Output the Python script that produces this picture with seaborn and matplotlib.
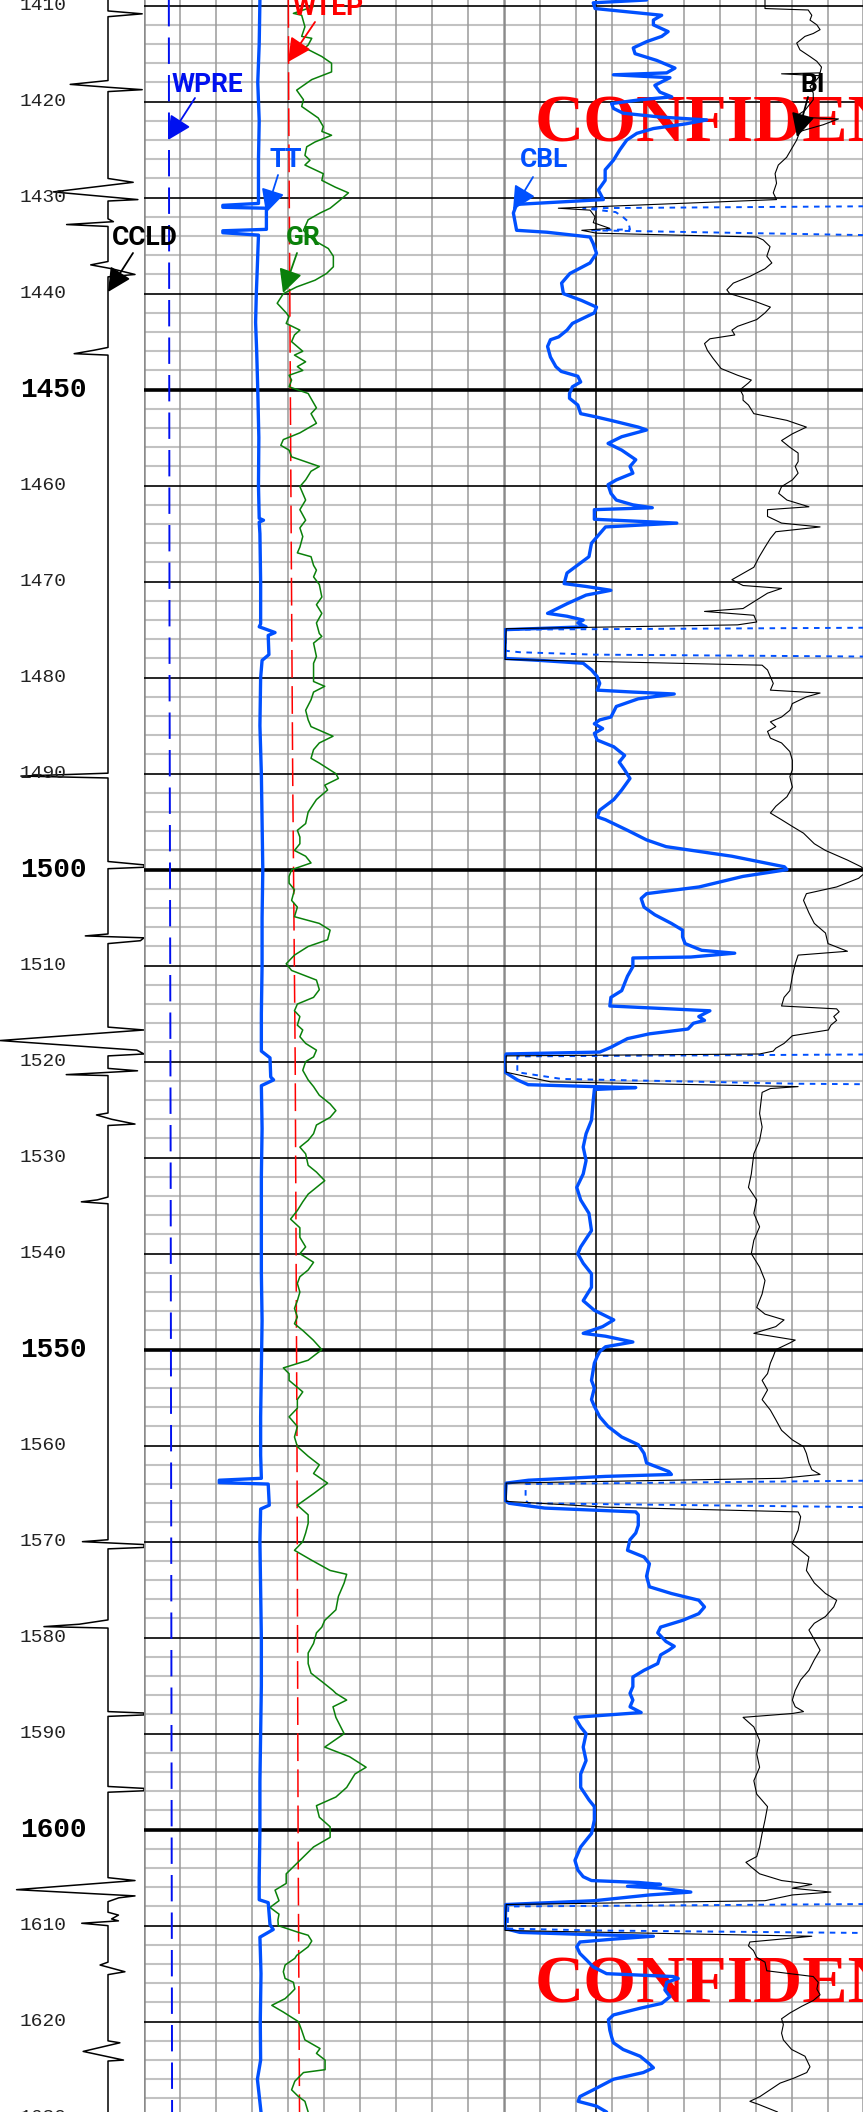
import numpy as np
import pandas as pd
import matplotlib
matplotlib.use("Agg")
import matplotlib.pyplot as plt
import seaborn as sns

# ---------------- depth window ----------------
TOP, BOT = 1409.41, 1629.41

# ---------------- CCLD (depth track, baseline 0) ----------------
CCL_D = [1409.41, 1410.55, 1410.85, 1411.15, 1417.8, 1418.2, 1418.5, 1418.75, 1418.95,
         1428.0, 1428.4, 1429.4, 1430.2, 1430.35, 1432.2, 1432.5, 1432.8, 1433.0,
         1436.65, 1437.0, 1437.4, 1438.0, 1438.25, 1445.6, 1445.9, 1446.25, 1446.4,
         1489.95, 1490.25, 1490.45, 1499.15, 1499.5, 1499.75, 1499.9,
         1506.7, 1506.9, 1507.1, 1507.4, 1507.7, 1516.4, 1516.7, 1517.8, 1518.8, 1519.2, 1519.4,
         1520.7, 1520.95, 1521.35, 1521.45, 1525.35, 1525.55, 1526.0, 1526.5, 1526.65,
         1534.1, 1534.4, 1534.6, 1534.8, 1569.8, 1570.0, 1570.3, 1570.6, 1570.75,
         1578.15, 1578.6, 1578.85, 1579.0, 1587.7, 1587.85, 1588.05, 1588.2,
         1595.5, 1595.7, 1595.95, 1596.1, 1605.0, 1605.3, 1606.25, 1606.9, 1607.1, 1607.5,
         1608.6, 1608.9, 1609.3, 1609.5, 1609.75, 1610.0, 1613.8, 1614.1, 1614.8, 1615.1,
         1622.0, 1622.2, 1623.1, 1624.0, 1624.1, 1629.41]
CCL_V = [0, 0, 9.5, 0, 0, -10.5, 0, 9.5, 0,
         0, 7.0, -15.2, 8.3, 0, 0, 1.5, -11.5, 0,
         0, -4.8, 1.0, 7.5, 0, 0, -4.0, -9.4, 0,
         0, -24.2, 0, 0, 10, 10, 0,
         0, -6.3, 10, 9, 0, 0, 10, -30, 8, 10, 0,
         0, 8.2, -11.6, 0, 0, -3.2, 1, 7.5, 0,
         0, -3, -7.4, 0, 0, -7.1, 10, 10, 0,
         0, -8, -17.8, 0, 0, 10, 10, 0,
         0, 10, 10, 0, 0, 7.5, -25.4, 7.5, 3, 0,
         0, 2.9, 1, 2.9, -7.3, 0, 0, -2.2, 4.7, 0,
         0, 3.3, -6.9, 4.3, 0, 0]

# ---------------- Track 2 curves (0-100 across track) ----------------
WPRE_D = [1409.41, 1480.0, 1530.0, 1580.0, 1629.41]
WPRE_V = [6.9, 7.1, 7.4, 7.6, 7.8]

WTEP_D = [1409.41, 1420.0, 1460.0, 1490.0, 1520.0, 1560.0, 1600.0, 1629.41]
WTEP_V = [40.1, 40.2, 40.8, 41.3, 42.0, 42.5, 42.8, 43.2]

TT_D = [1409.41, 1414.0, 1418.0, 1422.0, 1426.0, 1430.6, 1430.8, 1431.0, 1431.1, 1433.3,
        1433.45, 1433.65, 1433.9, 1437.0, 1440.0, 1443.0, 1446.0, 1450.0, 1455.0, 1460.0,
        1463.4, 1463.6, 1463.8, 1465.0, 1470.0, 1474.4, 1474.7, 1475.3, 1475.6, 1477.6,
        1478.2, 1480.0, 1485.0, 1490.0, 1495.0, 1500.0, 1505.0, 1510.0, 1515.0, 1518.9,
        1519.6, 1521.6, 1521.9, 1522.5, 1527.0, 1532.0, 1537.0, 1542.0, 1547.0, 1552.0,
        1557.0, 1561.0, 1563.4, 1563.6, 1563.85, 1564.0, 1566.2, 1566.6, 1570.0, 1575.0,
        1580.0, 1585.0, 1590.0, 1595.0, 1600.0, 1605.0, 1607.3, 1607.6, 1609.9, 1610.4,
        1611.2, 1615.0, 1620.0, 1624.0, 1626.0, 1629.41]
TT_V = [32.2, 32.0, 31.6, 32.0, 31.8, 31.8, 21.9, 21.9, 34.0, 34.0,
        21.9, 21.9, 31.8, 31.5, 31.2, 31.0, 31.3, 31.6, 31.9, 31.8,
        32.0, 33.2, 32.0, 32.2, 32.4, 32.4, 32.0, 36.4, 34.5, 34.7,
        32.8, 32.4, 32.2, 32.6, 32.8, 33.0, 32.8, 32.8, 32.6, 32.6,
        35.0, 35.2, 36.0, 32.6, 32.8, 32.6, 32.6, 32.6, 32.8, 32.6,
        32.4, 32.4, 32.6, 20.9, 20.9, 34.5, 34.8, 32.4, 32.2, 32.4,
        32.6, 32.6, 32.4, 32.2, 32.2, 32.0, 32.0, 34.5, 35.0, 35.9,
        32.2, 32.5, 32.3, 32.4, 31.5, 32.5]

GR_D = [1409.41, 1410.1, 1410.8, 1411.0, 1412.2, 1413.2, 1413.4, 1414.1, 1414.4, 1415.3,
        1416.0, 1416.9, 1417.7, 1418.8, 1419.8, 1420.5, 1421.7, 1422.6, 1423.1, 1423.5,
        1424.2, 1424.7, 1425.6, 1426.1, 1426.6, 1427.1, 1427.5, 1428.2, 1428.9, 1429.5,
        1430.4, 1431.1, 1431.6, 1432.3, 1433.4, 1434.4, 1435.3, 1436.1, 1437.2, 1437.9,
        1438.6, 1439.3, 1440.0, 1441.0, 1442.0, 1442.4, 1443.1, 1443.8, 1444.3, 1445.0,
        1446.0, 1446.4, 1447.1, 1447.6, 1448.0, 1448.5, 1449.0, 1449.7, 1450.4, 1451.9,
        1452.5, 1453.5, 1454.5, 1455.2, 1455.8, 1456.3, 1457.0, 1458.0, 1458.5, 1459.4,
        1460.1, 1461.5, 1462.5, 1463.6, 1464.4, 1465.3, 1466.4, 1467.0, 1467.4, 1468.3,
        1468.8, 1469.5, 1470.3, 1471.6, 1472.4, 1473.3, 1474.3, 1475.4, 1475.7, 1476.4,
        1477.8, 1478.5, 1479.5, 1480.4, 1480.9, 1481.5, 1482.3, 1483.4, 1484.4, 1485.1,
        1486.1, 1486.8, 1487.5, 1488.4, 1488.9, 1490.0, 1490.5, 1491.2, 1491.7, 1492.7,
        1494.0, 1495.2, 1495.9, 1496.6, 1497.3, 1498.0, 1498.6, 1499.3, 1500.0, 1500.7,
        1501.4, 1502.1, 1503.2, 1503.9, 1504.9, 1505.6, 1506.3, 1507.3, 1508.0, 1508.9,
        1509.8, 1510.5, 1511.5, 1512.5, 1513.3, 1514.0, 1514.7, 1515.3, 1516.2, 1516.7,
        1517.4, 1518.1, 1518.8, 1519.5, 1520.0, 1520.9, 1521.9, 1522.6, 1523.5, 1524.4,
        1525.1, 1525.8, 1526.6, 1527.5, 1528.2, 1528.9, 1529.6, 1530.8, 1531.5, 1532.4,
        1533.1, 1533.8, 1534.6, 1535.5, 1536.4, 1537.3, 1538.3, 1539.3, 1540.0, 1540.9,
        1541.7, 1542.4, 1543.1, 1544.0, 1544.9, 1545.7, 1546.6, 1547.3, 1548.0, 1549.0,
        1550.0, 1551.1, 1551.9, 1552.5, 1553.2, 1554.4, 1555.2, 1556.1, 1557.0, 1558.0,
        1559.1, 1560.1, 1561.1, 1562.0, 1562.9, 1563.9, 1565.0, 1566.2, 1567.2, 1568.1,
        1569.1, 1570.0, 1570.9, 1571.9, 1573.0, 1573.4, 1574.3, 1575.7, 1577.1, 1578.2,
        1578.9, 1579.5, 1580.6, 1581.6, 1582.7, 1583.7, 1584.6, 1585.5, 1585.8, 1586.5,
        1587.2, 1588.3, 1590.0, 1591.4, 1592.4, 1593.5, 1594.2, 1595.6, 1596.6, 1597.5,
        1598.7, 1599.7, 1600.8, 1601.8, 1603.2, 1604.6, 1605.6, 1606.3, 1607.4, 1608.1,
        1608.8, 1609.4, 1610.0, 1610.7, 1611.0, 1611.6, 1612.2, 1613.1, 1613.4, 1614.1,
        1614.8, 1615.5, 1615.9, 1616.6, 1617.1, 1617.6, 1618.3, 1619.0, 1620.0, 1620.9,
        1621.9, 1622.8, 1623.3, 1624.0, 1625.0, 1625.3, 1626.2, 1627.1, 1627.8, 1628.3,
        1629.41]
GR_V = [47.0, 47.0, 41.5, 43.8, 44.7, 43.8, 46.6, 45.6, 44.7, 49.4,
        52.1, 52.1, 46.6, 42.4, 44.3, 43.8, 48.4, 49.8, 49.4, 52.1,
        47.5, 45.2, 44.7, 46.1, 44.7, 47.5, 49.8, 49.4, 53.1, 56.8,
        54.0, 51.7, 48.9, 45.6, 44.3, 47.0, 51.2, 52.6, 52.6, 50.7,
        47.5, 42.4, 38.7, 37.0, 39.5, 40.3, 39.5, 43.3, 41.8, 41.0,
        44.1, 41.8, 44.9, 42.6, 44.1, 40.3, 41.0, 40.3, 45.6, 47.9,
        46.4, 47.9, 43.3, 38.7, 38.0, 40.3, 41.0, 48.7, 46.4, 44.9,
        43.3, 44.9, 43.3, 44.9, 43.3, 44.1, 43.3, 42.6, 46.4, 47.1,
        47.9, 47.1, 48.7, 49.4, 47.9, 49.4, 47.9, 48.7, 49.4, 47.1,
        47.9, 47.1, 47.1, 47.1, 50.2, 47.1, 46.4, 44.9, 45.6, 46.4,
        52.5, 48.7, 47.1, 46.4, 48.7, 53.3, 54.0, 50.2, 51.0, 47.9,
        45.6, 44.9, 42.6, 43.3, 43.3, 41.8, 44.9, 46.4, 41.0, 40.3,
        40.3, 41.8, 41.0, 42.6, 41.8, 48.7, 51.7, 51.0, 45.6, 41.8,
        39.5, 41.0, 47.9, 48.7, 47.1, 42.6, 41.8, 43.3, 42.6, 44.1,
        43.3, 44.9, 47.9, 47.1, 44.9, 44.1, 45.6, 47.1, 48.7, 51.7,
        53.3, 51.7, 47.9, 47.1, 45.6, 43.3, 44.9, 45.6, 47.9, 50.2,
        47.9, 45.6, 44.1, 42.6, 40.7, 43.3, 43.3, 44.9, 43.3, 47.1,
        45.6, 43.3, 42.6, 43.3, 42.6, 41.8, 42.6, 41.8, 44.1, 47.0,
        49.4, 45.6, 38.7, 40.3, 40.3, 44.1, 42.6, 42.6, 40.3, 42.6,
        41.8, 42.6, 45.6, 48.7, 47.1, 51.0, 47.1, 42.6, 45.6, 45.6,
        44.9, 44.1, 41.8, 46.4, 51.7, 56.3, 55.6, 54.0, 53.3, 50.2,
        49.4, 47.9, 47.1, 45.6, 45.6, 46.4, 49.5, 52.5, 53.3, 56.3,
        52.5, 53.3, 55.6, 50.2, 57.1, 61.7, 58.6, 56.3, 53.3, 47.9,
        48.7, 51.7, 51.7, 47.1, 43.3, 39.5, 39.5, 36.4, 37.5, 35.0,
        37.5, 37.2, 37.3, 42.9, 45.6, 46.6, 45.6, 42.4, 41.9, 39.2,
        38.7, 39.2, 41.5, 41.9, 40.6, 39.2, 35.5, 38.7, 42.9, 43.8,
        44.7, 48.9, 47.9, 50.3, 50.3, 44.3, 41.9, 41.0, 42.9, 44.7,
        45.6]

# ---------------- Track 3 curves (0-100 across track) ----------------
CBL_D = [1409.41, 1409.7, 1410.3, 1411.0, 1411.5, 1412.0, 1412.7, 1413.2, 1413.75, 1414.4,
         1415.0, 1415.7, 1416.5, 1417.0, 1417.2, 1417.5, 1418.3, 1419.0, 1419.5, 1419.8,
         1420.2, 1420.7, 1421.2, 1421.6, 1421.9, 1422.3, 1422.8, 1423.3, 1424.0, 1425.0,
         1426.1, 1427.1, 1428.2, 1429.2, 1430.2, 1430.7, 1431.6, 1433.4, 1433.6, 1434.1,
         1434.8, 1435.8, 1436.8, 1437.9, 1438.9, 1440.0, 1440.7, 1441.4, 1442.0, 1443.1,
         1443.8, 1444.5, 1444.8, 1445.5, 1446.6, 1447.6, 1448.1, 1448.6, 1449.2, 1449.7,
         1450.4, 1450.9, 1451.6, 1452.5, 1452.8, 1453.2, 1453.9, 1454.2, 1454.9, 1455.6,
         1456.3, 1457.3, 1458.0, 1458.7, 1459.4, 1459.9, 1460.8, 1461.5, 1462.0, 1462.3,
         1462.5, 1463.5, 1463.9, 1464.3, 1465.0, 1466.0, 1467.4, 1469.1, 1470.2, 1470.5,
         1470.9, 1471.4, 1472.3, 1473.3, 1473.6, 1474.0, 1474.3, 1474.7, 1475.0, 1478.0,
         1478.2, 1478.5, 1479.2, 1479.9, 1480.6, 1481.3, 1481.5, 1481.7, 1482.2, 1483.0,
         1484.1, 1484.4, 1484.8, 1485.3, 1485.8, 1486.5, 1487.2, 1488.1, 1488.8, 1489.6,
         1490.5, 1491.7, 1492.7, 1493.8, 1494.5, 1494.8, 1495.9, 1496.9, 1497.6, 1498.6,
         1499.7, 1500.0, 1500.7, 1501.8, 1502.5, 1503.0, 1503.9, 1504.7, 1505.6, 1506.3,
         1507.0, 1507.7, 1508.4, 1508.7, 1509.1, 1509.2, 1510.1, 1511.1, 1512.6, 1513.3,
         1514.2, 1514.7, 1515.3, 1515.7, 1516.0, 1516.6, 1517.1, 1517.6, 1518.5, 1519.0,
         1519.2, 1519.9, 1521.1, 1521.9, 1522.4, 1522.6, 1522.7, 1522.9, 1524.0, 1526.1,
         1527.5, 1528.9, 1530.3, 1531.7, 1533.1, 1534.4, 1535.8, 1537.6, 1539.3, 1540.0,
         1541.0, 1542.1, 1543.5, 1544.9, 1545.9, 1546.9, 1547.6, 1548.3, 1548.6, 1549.2,
         1549.7, 1550.2, 1550.7, 1551.4, 1553.2, 1554.0, 1555.2, 1555.9, 1557.0, 1558.0,
         1559.1, 1559.9, 1560.8, 1561.8, 1562.7, 1563.0, 1563.2, 1563.6, 1563.9, 1565.7,
         1566.0, 1566.5, 1566.9, 1567.2, 1568.3, 1569.1, 1569.8, 1570.9, 1571.6, 1572.3,
         1573.6, 1574.7, 1575.4, 1576.1, 1576.8, 1577.5, 1578.2, 1578.9, 1579.5, 1580.4,
         1580.9, 1581.3, 1581.8, 1582.7, 1583.4, 1584.1, 1585.1, 1585.8, 1586.5, 1587.2,
         1587.8, 1588.3, 1589.3, 1590.0, 1591.4, 1592.8, 1594.2, 1595.6, 1596.9, 1597.6,
         1599.0, 1600.4, 1601.8, 1603.2, 1604.2, 1604.9, 1605.3, 1605.5, 1605.7, 1605.9,
         1606.1, 1606.5, 1606.8, 1607.4, 1607.8, 1610.3, 1610.7, 1610.9, 1611.1, 1611.4,
         1611.7, 1612.2, 1612.9, 1613.6, 1614.3, 1615.0, 1615.3, 1615.5, 1615.9, 1616.7,
         1617.4, 1618.1, 1618.6, 1619.3, 1619.8, 1620.9, 1621.6, 1622.2, 1622.9, 1623.6,
         1624.3, 1624.8, 1625.3, 1626.0, 1627.1, 1627.8, 1628.3, 1628.8, 1629.41]
CBL_V = [39.6, 24.8, 25.3, 43.8, 41.5, 41.5, 45.6, 43.8, 39.6, 35.9,
         36.4, 42.4, 47.5, 45.2, 30.4, 46.1, 41.9, 43.3, 46.6, 37.8,
         29.9, 30.4, 33.1, 43.3, 56.3, 50.7, 41.5, 36.9, 34.1, 32.2,
         30.4, 28.1, 28.1, 26.2, 27.6, 3.5, 2.6, 3.5, 11.9, 23.9,
         24.8, 25.7, 23.9, 18.3, 16.0, 16.5, 21.5, 25.7, 25.1, 19.0,
         17.5, 15.2, 12.9, 12.1, 12.9, 14.4, 15.9, 20.5, 21.3, 19.0,
         18.2, 18.2, 20.5, 21.3, 25.1, 29.7, 37.3, 39.6, 32.7, 28.9,
         32.7, 36.6, 35.0, 35.8, 31.2, 28.9, 29.7, 31.2, 35.8, 41.2,
         25.1, 25.1, 48.0, 28.2, 26.6, 24.3, 23.6, 17.5, 16.7, 22.8,
         29.7, 22.8, 17.5, 12.1, 17.5, 22.0, 20.5, 22.8, 0.3, 0.3,
         9.8, 22.0, 24.3, 25.9, 26.6, 25.9, 35.8, 47.3, 37.3, 31.2,
         29.7, 26.6, 25.1, 27.4, 25.1, 25.9, 30.5, 33.5, 32.0, 33.5,
         35.0, 32.7, 30.5, 26.6, 25.9, 28.2, 34.3, 39.6, 45.0, 63.3,
         77.9, 78.6, 66.4, 54.2, 39.6, 38.1, 38.9, 41.9, 46.5, 49.6,
         49.6, 50.3, 54.9, 64.1, 51.9, 35.8, 35.8, 34.3, 32.7, 29.7,
         29.4, 57.2, 54.1, 55.7, 52.6, 51.1, 40.4, 34.3, 29.7, 26.6,
         0.6, 0.0, 0.3, 3.7, 6.7, 25.1, 36.6, 25.1, 24.8, 24.3,
         22.8, 22.0, 22.8, 22.0, 20.2, 21.3, 23.6, 24.3, 21.3, 20.5,
         22.0, 24.3, 24.3, 22.0, 25.1, 30.5, 27.4, 22.0, 28.2, 35.8,
         28.2, 26.6, 25.9, 25.1, 24.3, 25.1, 24.3, 25.1, 26.6, 28.9,
         32.7, 37.3, 38.9, 39.6, 45.8, 46.5, 28.2, 6.8, 0.6, 0.3,
         1.4, 11.3, 36.6, 37.3, 37.3, 36.6, 35.0, 34.3, 38.9, 40.4,
         39.6, 40.4, 46.5, 54.1, 55.7, 54.1, 49.6, 43.5, 42.7, 45.0,
         47.3, 45.8, 43.5, 42.7, 38.9, 35.8, 35.8, 35.0, 35.8, 35.0,
         38.1, 19.7, 21.3, 22.8, 22.0, 22.8, 21.3, 21.3, 23.6, 25.1,
         25.1, 24.3, 21.3, 19.7, 20.5, 22.0, 24.3, 37.3, 43.5, 34.3,
         43.5, 51.9, 40.4, 25.1, 0.5, 0.3, 4.4, 21.1, 41.5, 30.4,
         21.1, 20.2, 21.1, 23.0, 24.8, 28.5, 47.0, 48.4, 45.2, 44.7,
         46.1, 43.8, 37.8, 30.4, 29.0, 29.4, 29.9, 30.4, 33.1, 37.8,
         40.1, 41.5, 38.7, 30.4, 24.8, 21.1, 20.6, 25.7, 28.5]

BI_D = [1409.41, 1410.3, 1410.45, 1411.0, 1411.5, 1412.0, 1412.5, 1412.9, 1413.2, 1413.9,
        1414.6, 1415.3, 1415.8, 1416.4, 1417.0, 1417.1, 1417.3, 1417.9, 1418.4, 1419.1,
        1419.8, 1420.9, 1421.6, 1421.8, 1422.4, 1423.1, 1424.0, 1424.9, 1425.8, 1426.6,
        1427.5, 1428.5, 1429.5, 1430.2, 1431.1, 1431.3, 1432.0, 1432.6, 1433.2, 1433.4,
        1433.7, 1434.1, 1434.4, 1435.1, 1436.1, 1436.8, 1437.4, 1438.2, 1438.9, 1439.6,
        1440.0, 1440.7, 1441.4, 1442.0, 1442.7, 1443.4, 1443.8, 1444.3, 1444.7, 1445.2,
        1445.9, 1446.7, 1447.8, 1448.5, 1449.0, 1449.3, 1450.0, 1450.6, 1451.1, 1451.6,
        1452.5, 1453.2, 1453.9, 1454.6, 1455.3, 1456.0, 1456.6, 1457.5, 1458.0, 1458.7,
        1459.4, 1460.1, 1460.8, 1461.5, 1462.2, 1462.5, 1463.2, 1463.9, 1464.3, 1464.8,
        1465.5, 1466.4, 1467.4, 1468.5, 1469.8, 1470.4, 1470.7, 1471.2, 1471.9, 1472.8,
        1473.1, 1473.5, 1474.2, 1474.5, 1474.9, 1478.1, 1478.7, 1479.2, 1479.9, 1480.6,
        1481.3, 1481.6, 1482.0, 1482.7, 1483.4, 1484.1, 1484.6, 1485.1, 1485.6, 1486.3,
        1486.8, 1487.7, 1488.6, 1489.6, 1490.3, 1491.4, 1492.4, 1493.4, 1494.1, 1494.8,
        1495.5, 1496.2, 1497.3, 1498.0, 1499.0, 1499.7, 1500.2, 1500.9, 1501.8, 1502.5,
        1503.2, 1504.5, 1505.6, 1506.6, 1507.7, 1508.5, 1508.9, 1509.8, 1511.1, 1512.6,
        1513.3, 1514.2, 1514.5, 1514.8, 1515.3, 1515.7, 1516.2, 1516.7, 1517.3, 1518.1,
        1518.6, 1518.9, 1519.2, 1519.4, 1521.1, 1522.1, 1522.6, 1522.8, 1523.2, 1525.4,
        1526.8, 1528.2, 1529.6, 1531.7, 1533.1, 1534.4, 1535.8, 1537.2, 1538.6, 1540.0,
        1541.4, 1542.8, 1544.2, 1545.6, 1546.3, 1546.9, 1547.6, 1548.3, 1549.0, 1549.3,
        1550.0, 1550.7, 1551.4, 1552.5, 1553.2, 1554.2, 1555.2, 1556.3, 1557.3, 1558.4,
        1559.4, 1560.1, 1560.8, 1561.8, 1562.5, 1563.0, 1563.4, 1563.9, 1565.8, 1566.4,
        1566.9, 1567.4, 1568.8, 1570.2, 1571.6, 1573.0, 1574.3, 1575.4, 1576.1, 1576.8,
        1577.8, 1578.5, 1579.2, 1580.2, 1581.3, 1582.3, 1583.4, 1584.4, 1585.5, 1586.5,
        1587.2, 1587.7, 1587.9, 1588.3, 1589.3, 1590.7, 1592.1, 1593.5, 1594.9, 1596.3,
        1597.6, 1599.0, 1600.4, 1601.8, 1602.8, 1603.4, 1603.9, 1604.6, 1605.3, 1605.7,
        1606.1, 1606.5, 1606.8, 1607.4, 1607.8, 1610.5, 1611.1, 1611.7, 1612.1, 1612.6,
        1613.3, 1613.8, 1614.7, 1615.3, 1615.9, 1616.6, 1617.2, 1617.8, 1618.4, 1619.1,
        1619.7, 1620.3, 1621.2, 1621.9, 1622.9, 1623.6, 1624.7, 1625.3, 1625.9, 1626.4,
        1627.1, 1627.8, 1628.3, 1628.6, 1629.41]
BI_V = [72.5, 72.5, 84.5, 85.5, 85.0, 86.9, 87.8, 85.9, 83.6, 81.3,
        82.2, 85.0, 86.9, 88.2, 87.8, 77.1, 87.8, 86.4, 85.0, 85.9,
        85.9, 83.6, 80.8, 92.9, 88.7, 82.2, 81.3, 79.9, 78.5, 76.2,
        75.3, 75.7, 74.8, 75.7, 15.1, 23.9, 25.3, 24.8, 29.4, 21.6,
        25.7, 70.2, 72.0, 73.9, 73.0, 74.4, 72.5, 68.3, 63.7, 61.9,
        62.7, 69.0, 74.0, 72.5, 70.2, 64.9, 63.3, 64.1, 57.2, 55.7,
        56.5, 58.0, 60.3, 64.9, 68.7, 67.9, 65.6, 66.4, 66.4, 67.9,
        69.4, 78.6, 84.0, 80.1, 77.1, 79.4, 81.7, 81.7, 80.9, 81.7,
        80.1, 77.1, 76.3, 78.6, 84.7, 73.2, 73.2, 77.1, 87.8, 75.5,
        74.0, 72.5, 70.9, 69.4, 63.3, 66.4, 77.1, 73.2, 70.2, 66.4,
        55.7, 69.4, 70.2, 64.9, 0.6, 0.3, 71.7, 73.2, 74.0, 74.8,
        74.0, 87.8, 84.0, 80.1, 79.4, 77.1, 74.0, 75.5, 73.2, 74.0,
        77.1, 79.4, 80.1, 80.1, 79.4, 80.1, 78.6, 75.5, 74.0, 77.1,
        80.1, 83.2, 86.2, 89.3, 95.4, 99.2, 100.7, 98.5, 92.4, 84.0,
        83.2, 84.7, 86.2, 89.3, 90.0, 95.4, 81.7, 80.9, 80.1, 79.4,
        77.8, 77.1, 92.4, 93.1, 91.6, 92.4, 90.8, 90.1, 80.1, 77.8,
        75.5, 74.8, 71.0, 0.6, 0.6, 12.9, 81.7, 74.0, 71.7, 71.0,
        71.7, 71.0, 69.4, 68.7, 67.9, 70.2, 69.4, 71.0, 69.4, 68.7,
        71.0, 72.5, 71.7, 70.2, 72.5, 77.8, 75.5, 69.4, 80.9, 79.4,
        75.5, 74.8, 74.0, 73.2, 71.7, 73.2, 71.7, 74.0, 75.5, 77.1,
        80.1, 83.2, 84.0, 84.7, 85.5, 87.8, 77.1, 0.6, 0.6, 28.2,
        81.7, 82.4, 81.7, 80.1, 84.7, 84.0, 86.2, 89.3, 92.4, 91.6,
        89.3, 86.2, 84.7, 86.2, 87.8, 86.2, 84.7, 82.4, 80.9, 80.1,
        80.9, 83.2, 80.1, 66.4, 69.4, 71.0, 70.2, 71.0, 69.4, 70.2,
        73.2, 72.5, 71.7, 71.0, 70.2, 67.2, 68.7, 71.0, 77.1, 85.5,
        80.1, 90.8, 80.1, 72.5, 0.6, 0.3, 85.5, 68.3, 67.9, 69.3,
        70.2, 72.5, 73.0, 85.9, 87.3, 86.9, 87.8, 85.9, 82.7, 79.4,
        77.1, 77.6, 77.1, 77.6, 79.9, 83.6, 85.0, 84.1, 80.4, 76.7,
        73.9, 71.1, 68.3, 70.6, 76.0]

# dotted blue curve (off scale to the right except in the free-pipe intervals)
DOT_D = [1409.41, 1430.8, 1430.9, 1431.1, 1431.5, 1432.0, 1432.5, 1433.3, 1433.4, 1433.9, 1434.0,
         1474.7, 1474.8, 1475.0, 1477.2, 1477.35, 1477.6, 1477.8, 1477.9,
         1519.15, 1519.25, 1519.45, 1521.1, 1521.8, 1522.3, 1522.35, 1522.45,
         1563.55, 1563.65, 1564.0, 1565.7, 1566.0, 1566.4, 1566.5,
         1607.7, 1607.75, 1608.0, 1610.3, 1610.5, 1610.76, 1610.85, 1629.41]
DOT_V = [300, 300, 100, 22, 31, 33, 34.5, 35, 24, 100, 300,
         300, 100, 0.5, 0.5, 4.4, 25, 100, 300,
         300, 100, 3.7, 3.7, 16, 81.7, 100, 300,
         300, 100, 6.0, 6.0, 6.8, 100, 300,
         300, 100, 1.2, 1.0, 25, 100, 300, 300]

DEPTH_LABELS = list(range(1410, 1640, 10))

# ---------------- figure ----------------
sns.set_theme(style="white")
plt.rcParams['lines.scale_dashes'] = False
plt.rcParams['font.family'] = ['DejaVu Sans']

W, H = 863, 2112
fig = plt.figure(figsize=(W / 100, H / 100), dpi=100)
fig.patch.set_facecolor('white')


def add_ax(x0, w, xlim):
    ax = fig.add_axes([x0 / W, 0, w / W, 1])
    return ax, xlim


ax_d, lim_d = add_ax(0, 144, (-30, 10))
ax2, lim_2 = add_ax(144, 360, (0, 100))
ax3, lim_3 = add_ax(504, 359, (0, 359 / 3.6))

BLUE = '#0050ff'
DBLUE = '#0010f0'
RED = '#ff0000'
GREEN = '#0a800a'


def curve(ax, depth, val, color, lw, ls=None, z=3):
    df = pd.DataFrame({'depth': depth, 'val': val})
    sns.lineplot(data=df, x='val', y='depth', orient='y', sort=False, estimator=None,
                 ax=ax, color=color, linewidth=lw, zorder=z)
    line = ax.lines[-1]
    if ls is not None:
        line.set_linestyle(ls)
    line.set_solid_joinstyle('round')
    line.set_solid_capstyle('round')
    return line


# grids for tracks 2 and 3
for ax, xs in ((ax2, list(range(0, 101, 10))), (ax3, list(range(0, 100, 10)) + [99.6])):
    for d in np.arange(1410, 1631, 2):
        if d % 50 == 0:
            ax.axhline(d, color='black', lw=2.6, zorder=2)
        elif d % 10 == 0:
            ax.axhline(d, color='black', lw=1.2, zorder=2)
        else:
            ax.axhline(d, color='#c2c2c2', lw=1.5, zorder=1)
    for x in xs:
        if x == 0:
            ax.axvline(x, color='#8a8a8a', lw=1.8, zorder=1.5)
        else:
            ax.axvline(x, color='#9a9a9a', lw=1.1, zorder=1.5)
ax3.axvline(25.5, color='black', lw=1.1, zorder=2)

# curves
curve(ax_d, CCL_D, CCL_V, 'black', 1.1)
curve(ax2, WPRE_D, WPRE_V, DBLUE, 1.4, ls=(0, (19, 8)))
curve(ax2, WTEP_D, WTEP_V, RED, 1.1, ls=(0, (20, 6)))
curve(ax2, GR_D, GR_V, GREEN, 1.1)
curve(ax2, TT_D, TT_V, BLUE, 2.4)
curve(ax3, DOT_D, DOT_V, BLUE, 1.4, ls=(0, (4, 4)))
curve(ax3, CBL_D, CBL_V, BLUE, 2.4)
curve(ax3, BI_D, BI_V, 'black', 0.8)

# depth labels
for d in DEPTH_LABELS:
    if d % 50 == 0:
        ax_d.text(-24.44, d, str(d), ha='left', va='center', family='Liberation Mono',
                  fontsize=20, fontweight='bold', color='black', zorder=4)
    else:
        ax_d.text(-24.44, d, str(d), ha='left', va='center', family='Liberation Mono',
                  fontsize=14, color='#222222', zorder=4)

# CONFIDENTIAL watermarks
for d in (1424.2, 1617.96):
    ax3.text(8.6, d, 'CONFIDENTIAL', ha='left', va='baseline', family='Liberation Serif',
             fontsize=49, fontweight='bold', color='red', zorder=2.5, clip_on=True)

for ax, lim in ((ax_d, lim_d), (ax2, lim_2), (ax3, lim_3)):
    ax.set_xlim(*lim)
    ax.set_ylim(BOT, TOP)
    ax.set_axis_off()

# overlay for curve labels and pointers (pixel coordinates)
ax_o = fig.add_axes([0, 0, 1, 1], zorder=5)
ax_o.set_xlim(0, W)
ax_o.set_ylim(H, 0)
ax_o.set_axis_off()

LABELS = [
    ('WPRE', DBLUE, (172, 92), (195, 98), (168, 140)),
    ('WTEP', RED, (293, 15), (315, 22), (288, 62)),
    ('TT', BLUE, (269, 167), (278, 175), (266, 213)),
    ('GR', GREEN, (286, 245), (297, 253), (283, 293)),
    ('CCLD', 'black', (112, 245), (133, 253), (108, 292)),
    ('CBL', BLUE, (520, 167), (533, 177), (513, 210)),
    ('BI', 'black', (800, 92), (808, 97), (797, 137)),
]
for name, col, txy, a0, a1 in LABELS:
    ax_o.text(txy[0], txy[1], name, color=col, fontsize=19, fontweight='bold',
              family=['Roboto', 'Liberation Sans'], ha='left', va='baseline')
    ax_o.annotate('', xy=a1, xytext=a0,
                  arrowprops=dict(arrowstyle='-|>,head_length=0.6,head_width=0.3',
                                  color=col, lw=1.3, shrinkA=0, shrinkB=0,
                                  mutation_scale=24))

fig.savefig('out.png', dpi=100, facecolor='white')
